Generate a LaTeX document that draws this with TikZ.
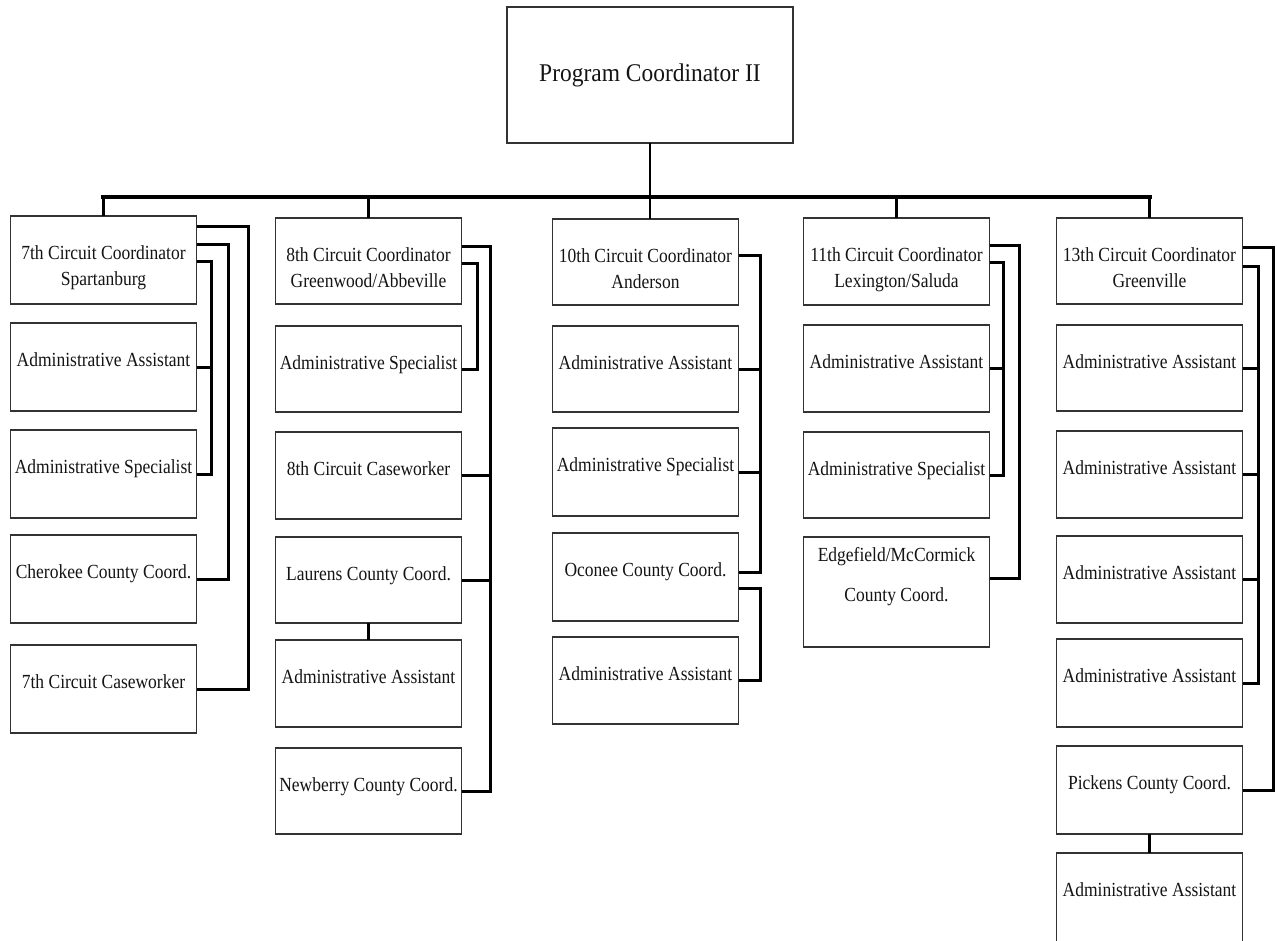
\documentclass[tikz,border=0pt]{standalone}
\usepackage{fontspec}
\setmainfont{Liberation Serif}
% narrow serif faces for the box labels
\newfontfamily\boxfont[FakeStretch=0.875]{Liberation Serif}
\newfontfamily\headfont[FakeStretch=0.92]{Liberation Serif}

% a one-line box: name, centre x, centre y, height, text
\newcommand\orgbox[5]{%
  \node[box,minimum height=#4pt] (#1) at (#2,#3) {};
  \node[lbl,anchor=base] (#1-t) at ([yshift=-43.5pt]#1.north) {#5};}
% a two-line box: name, centre x, centre y, height, first line, second line
\newcommand\orgboxii[6]{%
  \node[box,minimum height=#4pt] (#1) at (#2,#3) {};
  \node[lbl] (#1-t) at ([yshift=-51.8pt]#1.north) {#5\\#6\vphantom{g}};}

\begin{document}
\begin{tikzpicture}[x=1pt,y=-1pt,
  box/.style={draw=black!80,line width=1.6pt,fill=white,minimum width=186pt,
              inner sep=0pt,outer sep=0pt},
  lbl/.style={font=\boxfont\fontsize{20}{26}\selectfont,text=black!92,inner sep=0pt,align=center},
  toplbl/.style={font=\headfont\fontsize{25.5}{30}\selectfont,text=black!92,inner sep=0pt},
  wire/.style={line width=3pt,black,line join=miter},
  busline/.style={line width=4.2pt,black,line cap=rect},
  dropline/.style={line width=2.6pt,black}]

\useasboundingbox (0,0) rectangle (1277,940);
\clip (0,0) rectangle (1277,940);

% head of the chart
\node[box,minimum width=286pt,minimum height=136pt] (top) at (650,75) {};
\node[toplbl,anchor=base] (top-t) at (650,81.5) {Program Coordinator II};

% 7th circuit
\orgboxii{c1a}{103.5}{260}{88}{7th Circuit Coordinator}{Spartanburg}
\orgbox{c1b}{103.5}{367}{88}{Administrative Assistant}
\orgbox{c1c}{103.5}{474}{88}{Administrative Specialist}
\orgbox{c1d}{103.5}{579}{88}{Cherokee County Coord.}
\orgbox{c1e}{103.5}{689}{88}{7th Circuit Caseworker}

% 8th circuit
\orgboxii{c2a}{368.5}{261}{86}{8th Circuit Coordinator}{Greenwood/Abbeville}
\orgbox{c2b}{368.5}{369}{86}{Administrative Specialist}
\orgbox{c2c}{368.5}{475.5}{87}{8th Circuit Caseworker}
\orgbox{c2d}{368.5}{580}{86}{Laurens County Coord.}
\orgbox{c2e}{368.5}{683.5}{87}{Administrative Assistant}
\orgbox{c2f}{368.5}{791}{86}{Newberry County Coord.}

% 10th circuit
\orgboxii{c3a}{645.5}{262}{86}{10th Circuit Coordinator}{Anderson}
\orgbox{c3b}{645.5}{369}{86}{Administrative Assistant}
\orgbox{c3c}{645.5}{472}{88}{Administrative Specialist}
\orgbox{c3d}{645.5}{577}{88}{Oconee County Coord.}
\orgbox{c3e}{645.5}{680.5}{87}{Administrative Assistant}

% 11th circuit
\orgboxii{c4a}{896.5}{261.5}{87}{11th Circuit Coordinator}{Lexington/Saluda}
\orgbox{c4b}{896.5}{368.5}{87}{Administrative Assistant}
\orgbox{c4c}{896.5}{475}{86}{Administrative Specialist}
\node[box,minimum height=110pt] (c4d) at (896.5,592) {};
\node[lbl] (c4d-t) at ([yshift=-39.9pt]c4d.north) {Edgefield/McCormick\\[14pt]County Coord.};

% 13th circuit
\orgboxii{c5a}{1149.5}{261}{86}{13th Circuit Coordinator}{Greenville}
\orgbox{c5b}{1149.5}{368}{86}{Administrative Assistant}
\orgbox{c5c}{1149.5}{474.5}{87}{Administrative Assistant}
\orgbox{c5d}{1149.5}{579.5}{87}{Administrative Assistant}
\orgbox{c5e}{1149.5}{683}{88}{Administrative Assistant}
\orgbox{c5f}{1149.5}{790}{88}{Pickens County Coord.}
\orgbox{c5g}{1149.5}{898}{90}{Administrative Assistant}

% main bus and drops
\coordinate (bus) at (652,197);
\draw[dropline] (top.south) -- (top.south |- bus);
\draw[busline] (c1a.north |- bus) -- (c5a.north |- bus);
\foreach \c in {c1a,c2a,c4a,c5a} \draw[dropline] (\c.north |- bus) -- (\c.north);
\draw[dropline] (top.south |- bus) -- (top.south |- c3a.north);

% vertical rails beside each column
\coordinate (r1i) at (211,0);  \coordinate (r1m) at (228,0); \coordinate (r1o) at (248,0);
\coordinate (r2i) at (477,0);  \coordinate (r2o) at (490,0);
\coordinate (r3)  at (760,0);
\coordinate (r4i) at (1003,0); \coordinate (r4o) at (1019,0);
\coordinate (r5i) at (1258,0); \coordinate (r5o) at (1273,0);

% 7th circuit links
\draw[wire] ([yshift=-10pt]c1a.north east) -| (r1o |- c1e.east) -- (c1e.east);
\draw[wire] ([yshift=-28pt]c1a.north east) -| (r1m |- c1d.east) -- (c1d.east);
\draw[wire] ([yshift=-45pt]c1a.north east) -| (r1i |- c1c.east) -- (c1c.east);
\draw[wire] (c1b.east) -- (r1i |- c1b.east);

% 8th circuit links
\draw[wire] ([yshift=-28pt]c2a.north east) -| (r2o |- c2f.east) -- (c2f.east);
\draw[wire] ([yshift=-45pt]c2a.north east) -| (r2i |- c2b.east) -- (c2b.east);
\draw[wire] (c2c.east) -- (r2o |- c2c.east);
\draw[wire] (c2d.east) -- (r2o |- c2d.east);
\draw[wire] (c2d.south) -- (c2e.north);

% 10th circuit links
\coordinate (c3d-a) at ([yshift=-39pt]c3d.north east);
\coordinate (c3d-b) at ([yshift=-55pt]c3d.north east);
\draw[wire] ([yshift=-36pt]c3a.north east) -| (r3 |- c3d-a) -- (c3d-a);
\draw[wire] (c3b.east) -- (r3 |- c3b.east);
\draw[wire] (c3c.east) -- (r3 |- c3c.east);
\draw[wire] (c3d-b) -| (r3 |- c3e.east) -- (c3e.east);

% 11th circuit links
\coordinate (c4d-a) at ([yshift=-41pt]c4d.north east);
\draw[wire] ([yshift=-27pt]c4a.north east) -| (r4o |- c4d-a) -- (c4d-a);
\draw[wire] ([yshift=-44pt]c4a.north east) -| (r4i |- c4c.east) -- (c4c.east);
\draw[wire] (c4b.east) -- (r4i |- c4b.east);

% 13th circuit links
\draw[wire] ([yshift=-29pt]c5a.north east) -| (r5o |- c5f.east) -- (c5f.east);
\draw[wire] ([yshift=-48pt]c5a.north east) -| (r5i |- c5e.east) -- (c5e.east);
\foreach \c in {c5b,c5c,c5d} \draw[wire] (\c.east) -- (r5i |- \c.east);
\draw[wire] (c5f.south) -- (c5g.north);

\end{tikzpicture}
\end{document}
